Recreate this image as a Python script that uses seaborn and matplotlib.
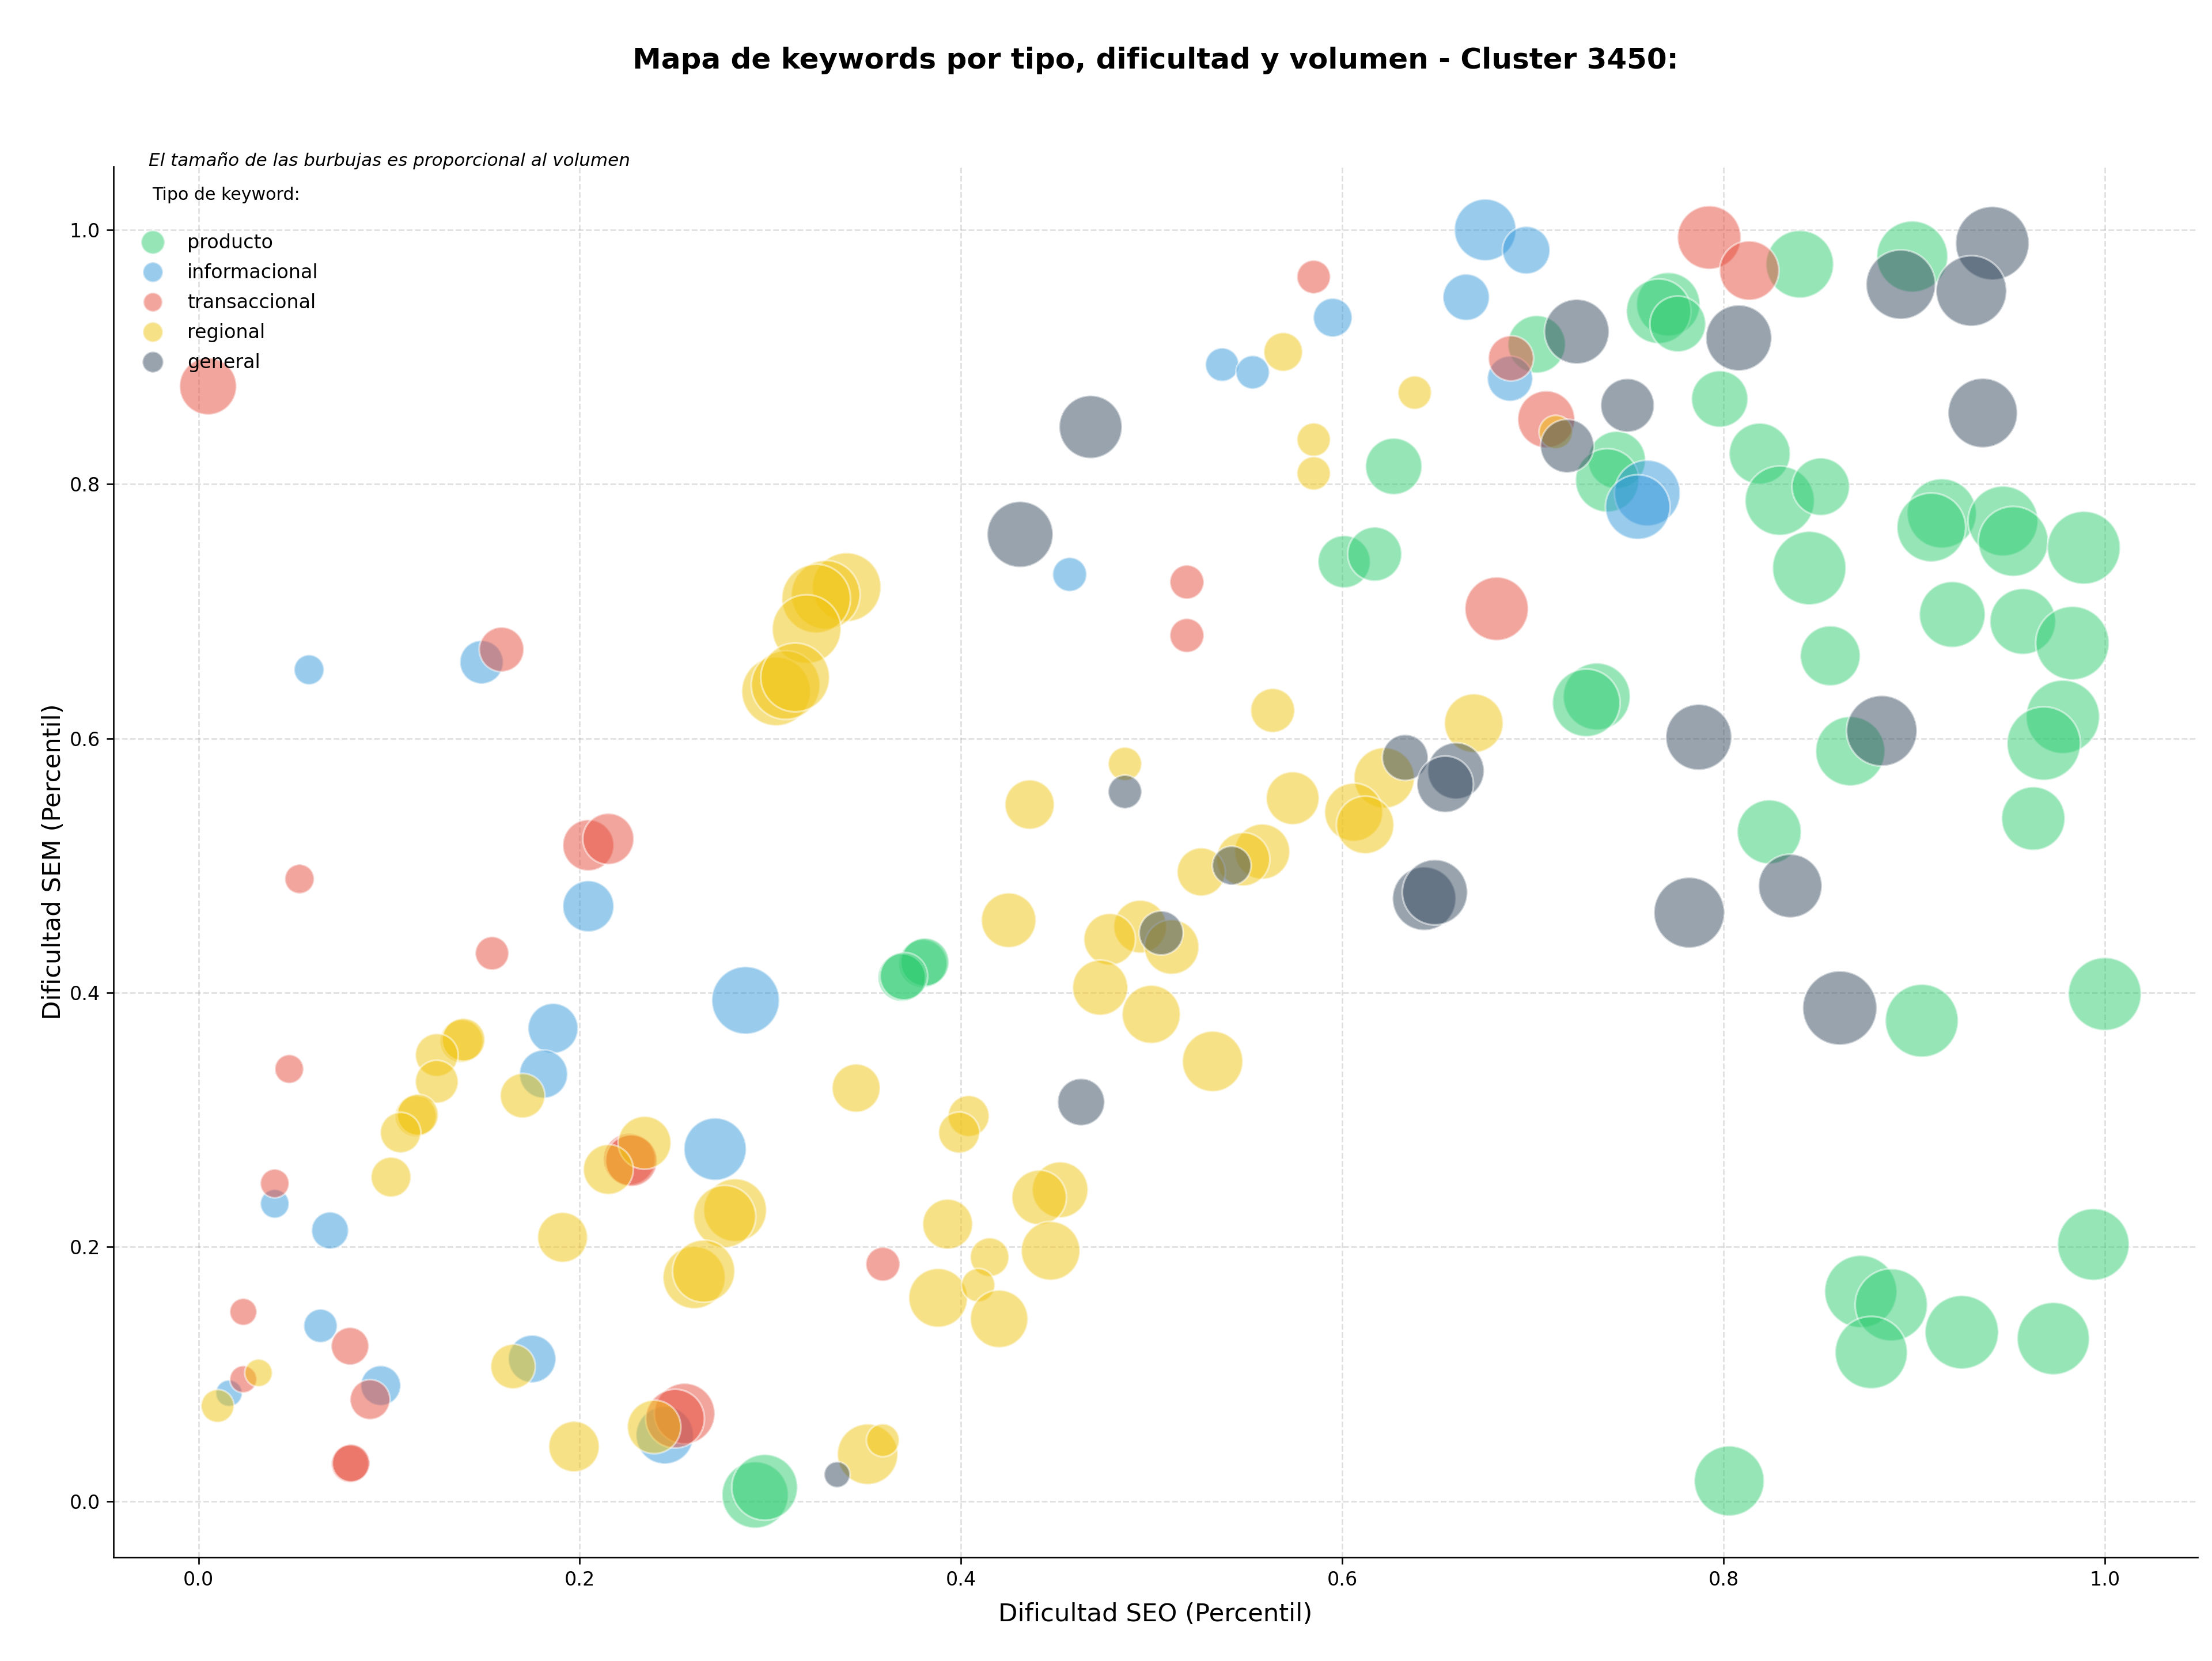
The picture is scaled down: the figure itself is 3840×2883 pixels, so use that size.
import matplotlib
matplotlib.use("Agg")
import matplotlib.pyplot as plt
from matplotlib.lines import Line2D
import numpy as np
import pandas as pd
import seaborn as sns

# ---- data ----
tipos = ["producto", "informacional", "transaccional", "regional", "general"]
colores = ["#2ecc71", "#3498db", "#e74c3c", "#f1c40f", "#34495e"]

producto_seo = [0.840, 0.899, 0.771, 0.766, 0.776, 0.702, 0.798, 0.627, 0.744, 0.739,
                0.819, 0.8295, 0.851, 0.845, 0.9145, 0.909, 0.9466, 0.952, 0.989, 0.920,
                0.957, 0.983, 0.856, 0.601, 0.617, 0.7335, 0.728, 0.8665, 0.978, 0.968,
                0.9625, 0.824, 0.904, 1.0, 0.994, 0.872, 0.888, 0.8775, 0.925, 0.973,
                0.803, 0.380, 0.381, 0.369, 0.370, 0.292, 0.297]
producto_sem = [0.973, 0.979, 0.9415, 0.936, 0.926, 0.910, 0.867, 0.814, 0.819, 0.803,
                0.824, 0.787, 0.798, 0.734, 0.777, 0.766, 0.771, 0.755, 0.750, 0.6975,
                0.692, 0.675, 0.665, 0.739, 0.745, 0.633, 0.628, 0.590, 0.617, 0.596,
                0.537, 0.5265, 0.378, 0.399, 0.202, 0.165, 0.1545, 0.117, 0.133, 0.128,
                0.016, 0.423, 0.424, 0.412, 0.413, 0.005, 0.011]
producto_vol = [1323, 1464, 1166, 1210, 903, 960, 922, 922, 960, 1166,
                1082, 1392, 960, 1563, 1392, 1369, 1416, 1416, 1538, 1254,
                1254, 1563, 1040, 792, 846, 1300, 1323, 1392, 1563, 1563,
                1166, 1188, 1538, 1538, 1488, 1513, 1513, 1513, 1563, 1513,
                1416, 672, 672, 656, 656, 1277, 1254]

informacional_seo = [0.675, 0.6965, 0.595, 0.665, 0.537, 0.553, 0.688, 0.760, 0.755, 0.457,
                     0.058, 0.1485, 0.2045, 0.287, 0.186, 0.181, 0.271, 0.040, 0.069, 0.175,
                     0.064, 0.0956, 0.016, 0.2446]
informacional_sem = [1.000, 0.984, 0.931, 0.947, 0.894, 0.888, 0.883, 0.793, 0.782, 0.729,
                     0.654, 0.660, 0.468, 0.394, 0.372, 0.336, 0.277, 0.234, 0.213, 0.112,
                     0.138, 0.091, 0.085, 0.052]
informacional_vol = [1103, 656, 436, 624, 325, 325, 593, 1254, 1210, 336,
                     260, 548, 757, 1323, 723, 672, 1124, 240, 397, 656,
                     325, 462, 203, 960]

transaccional_seo = [0.005, 0.585, 0.7925, 0.8135, 0.6885, 0.707, 0.5185, 0.5185, 0.681, 0.159,
                     0.2045, 0.215, 0.053, 0.154, 0.0476, 0.226, 0.227, 0.040, 0.359, 0.0235,
                     0.0795, 0.090, 0.0235, 0.0795, 0.080, 0.255, 0.250]
transaccional_sem = [0.877, 0.963, 0.994, 0.968, 0.899, 0.851, 0.723, 0.681, 0.702, 0.670,
                     0.516, 0.521, 0.4895, 0.431, 0.340, 0.269, 0.268, 0.250, 0.1865, 0.149,
                     0.122, 0.080, 0.096, 0.0295, 0.030, 0.069, 0.065]
transaccional_vol = [941, 325, 1166, 1020, 593, 941, 336, 336, 1166, 578,
                     757, 757, 250, 325, 240, 774, 774, 240, 336, 212,
                     410, 462, 212, 410, 410, 1061, 1000]

regional_seo = [0.569, 0.638, 0.585, 0.585, 0.712, 0.340, 0.329, 0.324, 0.319, 0.303,
                0.308, 0.313, 0.5635, 0.669, 0.486, 0.436, 0.574, 0.622, 0.606, 0.612,
                0.558, 0.548, 0.526, 0.425, 0.494, 0.478, 0.5105, 0.473, 0.4998, 0.532,
                0.345, 0.404, 0.399, 0.452, 0.441, 0.393, 0.447, 0.415, 0.388, 0.409,
                0.420, 0.351, 0.359, 0.138, 0.139, 0.125, 0.125, 0.170, 0.114, 0.115,
                0.106, 0.101, 0.191, 0.234, 0.215, 0.2815, 0.276, 0.260, 0.265, 0.165,
                0.0315, 0.010, 0.197, 0.239]
regional_sem = [0.904, 0.872, 0.835, 0.8085, 0.841, 0.719, 0.713, 0.710, 0.686, 0.637,
                0.642, 0.648, 0.622, 0.612, 0.580, 0.548, 0.553, 0.569, 0.542, 0.532,
                0.511, 0.505, 0.495, 0.457, 0.452, 0.442, 0.436, 0.404, 0.383, 0.346,
                0.325, 0.303, 0.290, 0.245, 0.239, 0.218, 0.197, 0.192, 0.160, 0.170,
                0.1435, 0.037, 0.048, 0.362, 0.363, 0.351, 0.330, 0.319, 0.303, 0.304,
                0.290, 0.255, 0.2076, 0.282, 0.261, 0.229, 0.224, 0.176, 0.181, 0.106,
                0.101, 0.075, 0.043, 0.0585]
regional_vol = [436, 325, 325, 325, 325, 1369, 1369, 1369, 1369, 1369,
                1369, 1369, 563, 1000, 325, 706, 810, 1061, 980, 960,
                884, 828, 672, 865, 810, 774, 865, 884, 980, 1061,
                672, 490, 490, 903, 865, 723, 1000, 436, 1000, 325,
                960, 1061, 314, 533, 533, 533, 533, 578, 490, 490,
                476, 462, 723, 810, 723, 1145, 1124, 1124, 1124, 578,
                221, 314, 740, 828]

general_seo = [0.941, 0.893, 0.930, 0.808, 0.723, 0.718, 0.7496, 0.936, 0.468, 0.431,
               0.787, 0.883, 0.835, 0.782, 0.861, 0.486, 0.633, 0.6596, 0.654, 0.542,
               0.643, 0.6486, 0.505, 0.463, 0.335]
general_sem = [0.9895, 0.957, 0.952, 0.915, 0.920, 0.830, 0.862, 0.856, 0.845, 0.7605,
               0.601, 0.606, 0.484, 0.463, 0.388, 0.558, 0.585, 0.5745, 0.564, 0.500,
               0.474, 0.479, 0.447, 0.314, 0.021]
general_vol = [1563, 1392, 1440, 1254, 1210, 828, 828, 1392, 1145, 1254,
               1254, 1440, 1166, 1440, 1588, 325, 608, 922, 922, 436,
               1166, 1232, 563, 640, 194]

# legend marker sizes (pt)
legend_ms = [12.3, 10.5, 10.0, 10.5, 11.0]

series = {
    "producto": (producto_seo, producto_sem, producto_vol),
    "informacional": (informacional_seo, informacional_sem, informacional_vol),
    "transaccional": (transaccional_seo, transaccional_sem, transaccional_vol),
    "regional": (regional_seo, regional_sem, regional_vol),
    "general": (general_seo, general_sem, general_vol),
}

frames = []
for t, (sx, sy, sv) in series.items():
    frames.append(pd.DataFrame({"seo": sx, "sem": sy, "volumen": sv, "tipo": t}))
df = pd.concat(frames, ignore_index=True)

fig = plt.figure(figsize=(16, 12.0125), dpi=240)
ax = fig.add_axes([0.0513, 0.0624, 0.9422, 0.8374])

sns.scatterplot(data=df, x="seo", y="sem", hue="tipo", hue_order=tipos,
                palette=dict(zip(tipos, colores)), size="volumen",
                sizes=(0, 1872), size_norm=(0, 2000), alpha=0.5,
                edgecolor="white", linewidth=1, legend=False, ax=ax)

ax.set_xlim(-0.0446, 1.0487)
ax.set_ylim(-0.0441, 1.0499)
ax.set_xticks(np.arange(0, 1.01, 0.2))
ax.set_yticks(np.arange(0, 1.01, 0.2))
ax.grid(True, linestyle="--", color="gray", alpha=0.25, linewidth=0.8)
ax.set_axisbelow(True)
sns.despine(ax=ax)

ax.set_xlabel("Dificultad SEO (Percentil)", fontsize=13, labelpad=6.5)
ax.set_ylabel("Dificultad SEM (Percentil)", fontsize=13, labelpad=2)
ax.set_title("Mapa de keywords por tipo, dificultad y volumen - Cluster 3450:",
             fontsize=15, fontweight="bold", pad=51)

handles = [Line2D([0], [0], marker="o", linestyle="", markersize=ms,
                  markerfacecolor=c, markeredgecolor="white", alpha=0.5)
           for c, ms in zip(colores, legend_ms)]
ax.legend(handles, tipos, title="Tipo de keyword:\n", loc="upper left",
          frameon=False, fontsize=10, title_fontsize=9,
          labelspacing=0.57, borderaxespad=0.65)

ax.text(0.017, 1.004, "El tamaño de las burbujas es proporcional al volumen",
        transform=ax.transAxes, fontsize=9.3, style="italic", va="center", ha="left")

fig.savefig("out.png", dpi=240)
